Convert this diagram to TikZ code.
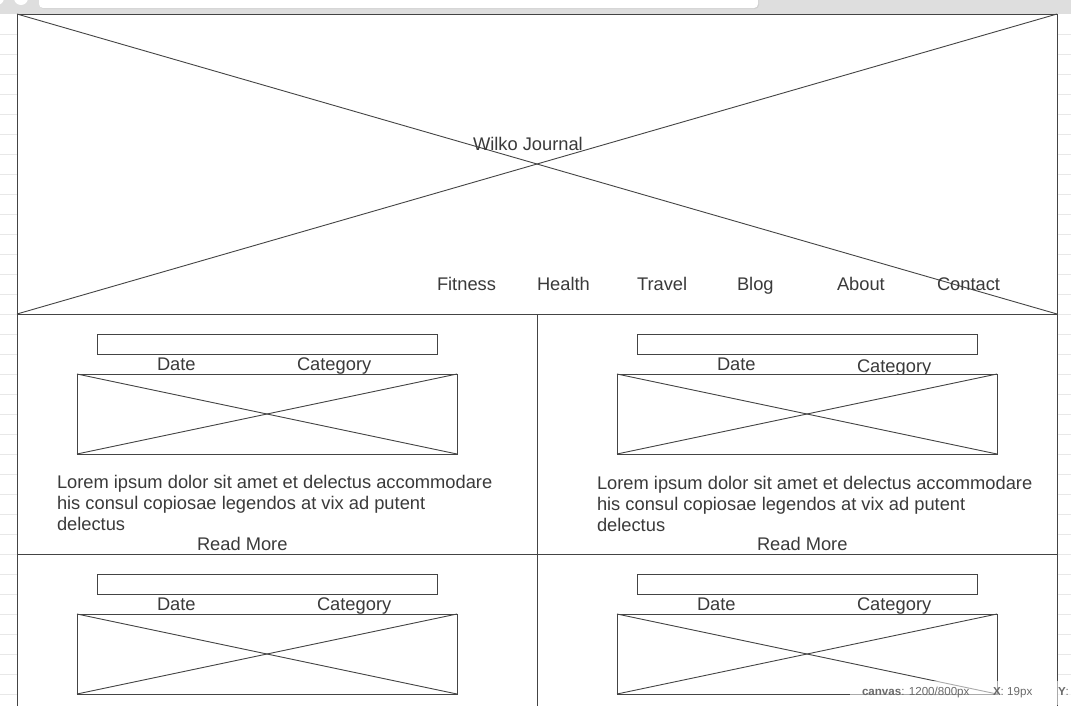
\documentclass[tikz,border=0pt]{standalone}
\usepackage{fontspec}
\setmainfont{Liberation Sans}
\definecolor{ink}{HTML}{444444}
\definecolor{txt}{HTML}{3A3A3A}
\definecolor{barc}{HTML}{DEDEDE}
\definecolor{gridc}{HTML}{E8E8E8}
\definecolor{statc}{HTML}{6A6A6A}
\begin{document}
\begin{tikzpicture}[x=1pt,y=-1pt,
  wire/.style={draw=ink, line width=0.9pt},
  lbl/.style={inner sep=0pt, outer sep=0pt, text=txt, font=\fontsize{18.3}{21}\selectfont, anchor=base west},
  para/.style={inner sep=0pt, outer sep=0pt, text=txt, font=\fontsize{18.3}{21}\selectfont, anchor=north west, align=left},
  imgbox/.style={wire, fill=white, inner sep=0pt, outer sep=0pt, minimum width=380pt, minimum height=80pt},
  titlebox/.style={wire, fill=white, inner sep=0pt, outer sep=0pt, minimum width=340pt, minimum height=20pt},
  stat/.style={inner sep=0pt, outer sep=0pt, text=statc, font=\fontsize{11.6}{13}\selectfont, anchor=base west}
]
\useasboundingbox (0,0) rectangle (1071,705);
\clip (0,0) rectangle (1071,705);
\fill[white] (0,0) rectangle (1071,705);
% background grid
\foreach \yy in {34,54,...,714} {
  \draw[gridc, line width=0.8pt] (0,\yy) -- (1071,\yy);
}
% page
\fill[white] (17,14) rectangle (1057,720);
% browser bar
\fill[barc] (0,0) rectangle (1071,14);
\fill[white] (-3,-2) circle (7);
\fill[white] (21,-2) circle (7);
\fill[black!18, rounded corners=4pt] (40,-6) rectangle (759,9);
\fill[white, rounded corners=4pt] (39,-6) rectangle (758,8);
% header
\node[wire, fill=white, inner sep=0pt, outer sep=0pt, minimum width=1040pt, minimum height=300pt] (hdr) at (537,164) {};
\draw[wire] (hdr.north west) -- (hdr.south east);
\draw[wire] (hdr.south west) -- (hdr.north east);
\node[lbl] (title) at (473,150) {Wilko Journal};
\node[lbl] (nav1) at (437,290) {Fitness};
\node[lbl] (nav2) at (537,290) {Health};
\node[lbl] (nav3) at (637,290) {Travel};
\node[lbl] (nav4) at (737,290) {Blog};
\node[lbl] (nav5) at (837,290) {About};
\node[lbl] (nav6) at (937,290) {Contact};
% frame
\coordinate (fl) at (17,314);
\coordinate (flb) at (17,720);
\coordinate (fr) at (1057,314);
\coordinate (frb) at (1057,720);
\coordinate (fm) at (537,314);
\coordinate (fmb) at (537,720);
\coordinate (hl) at (17,554);
\coordinate (hr) at (1057,554);
\draw[wire] (fl) -- (flb);
\draw[wire] (fr) -- (frb);
\draw[wire] (fm) -- (fmb);
\draw[wire] (hl) -- (hr);
% card 1
\node[titlebox] (t1) at (267,344) {};
\node[lbl] (d1) at (157,370) {Date};
\node[lbl] (c1) at (297,370) {Category};
\node[imgbox] (i1) at (267,414) {};
\draw[wire] (i1.north west) -- (i1.south east);
\draw[wire] (i1.south west) -- (i1.north east);
\node[para] (p1) at (57,475.5) {Lorem ipsum dolor sit amet et delectus accommodare\\his consul copiosae legendos at vix ad putent\\delectus};
\node[lbl] (r1) at (197,550) {Read More};
% card 2
\node[titlebox] (t2) at (807,344) {};
\node[lbl] (d2) at (717,370) {Date};
\node[lbl] (c2) at (857,372) {Category};
\node[imgbox] (i2) at (807,414) {};
\draw[wire] (i2.north west) -- (i2.south east);
\draw[wire] (i2.south west) -- (i2.north east);
\node[para] (p2) at (597,476.5) {Lorem ipsum dolor sit amet et delectus accommodare\\his consul copiosae legendos at vix ad putent\\delectus};
\node[lbl] (r2) at (757,550) {Read More};
% card 3
\node[titlebox] (t3) at (267,584) {};
\node[lbl] (d3) at (157,610) {Date};
\node[lbl] (c3) at (317,610) {Category};
\node[imgbox] (i3) at (267,654) {};
\draw[wire] (i3.north west) -- (i3.south east);
\draw[wire] (i3.south west) -- (i3.north east);
% card 4
\node[titlebox] (t4) at (807,584) {};
\node[lbl] (d4) at (697,610) {Date};
\node[lbl] (c4) at (857,610) {Category};
\node[imgbox] (i4) at (807,654) {};
\draw[wire] (i4.north west) -- (i4.south east);
\draw[wire] (i4.south west) -- (i4.north east);
% status overlay
\fill[white, opacity=0.55] (850,681) rectangle (1071,705);
\node[stat] (s1) at (862,695) {\textbf{canvas}: 1200/800px};
\node[stat] (s2) at (993,695) {\textbf{X}: 19px};
\node[stat] (s3) at (1058,695) {\textbf{Y}:};
\end{tikzpicture}
\end{document}
